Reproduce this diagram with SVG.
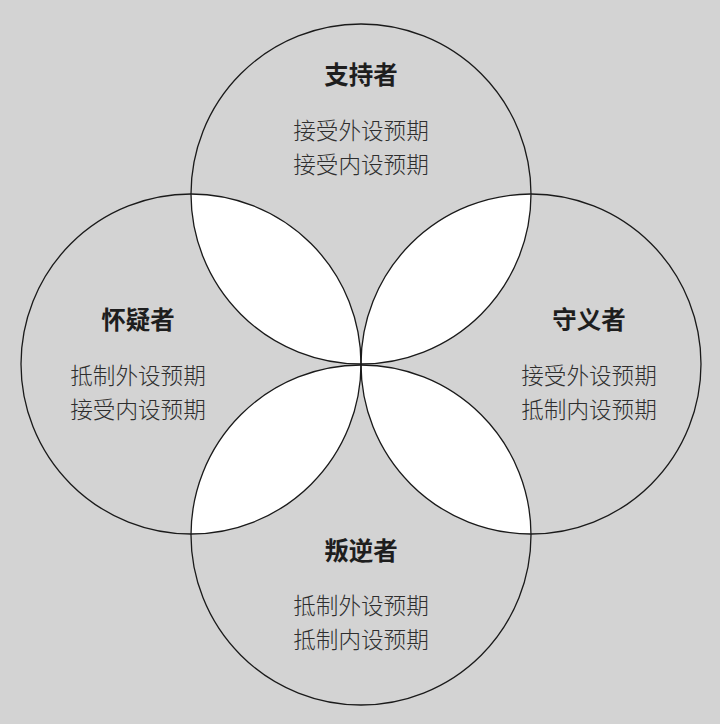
<svg xmlns="http://www.w3.org/2000/svg" width="720" height="724" viewBox="0 0 720 724">
<style>
.c{fill:none;stroke:#1a1a1a;stroke-width:1.3}
.t{font-family:"Noto Sans CJK SC","Noto Sans",sans-serif;font-size:24.5px;font-weight:700;fill:#1e1e1e;text-anchor:middle}
.s{font-family:"Noto Sans CJK SC","Noto Sans",sans-serif;font-size:22.6px;font-weight:300;fill:#2e2e2e;text-anchor:middle}
.lens{fill:#fff}
</style>
<defs>
<clipPath id="cT"><circle cx="361" cy="194" r="170"/></clipPath>
<clipPath id="cB"><circle cx="361" cy="535" r="170"/></clipPath>
</defs>
<rect width="720" height="724" fill="#d3d3d3"/>
<g id="lenses">
<g clip-path="url(#cT)">
<circle class="lens" cx="191" cy="364" r="170"/>
<circle class="lens" cx="531" cy="364" r="170"/>
</g>
<g clip-path="url(#cB)">
<circle class="lens" cx="191" cy="364" r="170"/>
<circle class="lens" cx="531" cy="364" r="170"/>
</g>
</g>
<g id="supporter">
<circle class="c" cx="361" cy="194" r="170"/>
<text class="t" x="361" y="84">支持者</text>
<text class="s" x="361" y="139">接受外设预期</text>
<text class="s" x="361" y="173">接受内设预期</text>
</g>
<g id="skeptic">
<circle class="c" cx="191" cy="364" r="170"/>
<text class="t" x="138" y="329">怀疑者</text>
<text class="s" x="138" y="384">抵制外设预期</text>
<text class="s" x="138" y="418">接受内设预期</text>
</g>
<g id="guardian">
<circle class="c" cx="531" cy="364" r="170"/>
<text class="t" x="589" y="329">守义者</text>
<text class="s" x="589" y="384">接受外设预期</text>
<text class="s" x="589" y="418">抵制内设预期</text>
</g>
<g id="rebel">
<circle class="c" cx="361" cy="535" r="170"/>
<text class="t" x="361" y="560">叛逆者</text>
<text class="s" x="361" y="614">抵制外设预期</text>
<text class="s" x="361" y="648">抵制内设预期</text>
</g>
<g id="connectors"/>
</svg>
